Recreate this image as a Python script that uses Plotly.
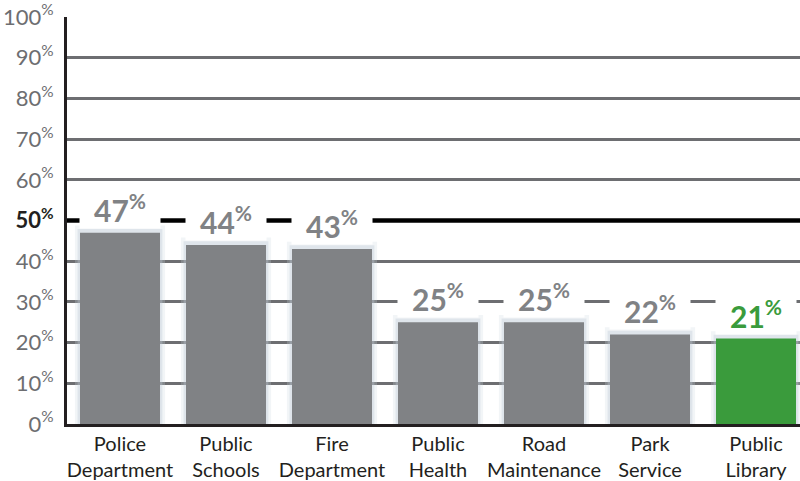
import plotly.graph_objects as go

categories = ["Police<br>Department", "Public<br>Schools", "Fire<br>Department", "Public<br>Health",
              "Road<br>Maintenance", "Park<br>Service", "Public<br>Library"]
values = [47, 44, 43, 25, 25, 22, 21]
bar_colors = ["#808285"] * 6 + ["#3a9b3c"]
label_colors = ["#808285"] * 6 + ["#3a9b3c"]
tick_vals = [0, 10, 20, 30, 40, 50, 60, 70, 80, 90, 100]

xs = list(range(len(categories)))
font_family = "Lato, 'Open Sans', sans-serif"

fig = go.Figure()
# soft glow behind bars
fig.add_trace(go.Bar(x=xs, y=[v + 1.8 for v in values], width=0.85,
                     marker=dict(color="rgba(205,214,224,0.25)", line=dict(width=0)),
                     hoverinfo="skip", showlegend=False))
fig.add_trace(go.Bar(x=xs, y=[v + 0.9 for v in values], width=0.80,
                     marker=dict(color="rgba(190,200,212,0.35)", line=dict(width=0)),
                     hoverinfo="skip", showlegend=False))
fig.add_trace(go.Bar(x=xs, y=values, width=0.755,
                     marker=dict(color=bar_colors, line=dict(width=0)),
                     showlegend=False))

# 50% reference line
fig.add_shape(type="line", xref="paper", yref="y", x0=0, x1=1, y0=50, y1=50,
              line=dict(color="#000000", width=4.5), layer="above")

for i, v in enumerate(values):
    fig.add_annotation(x=i, y=v, xref="x", yref="y", yanchor="bottom", yshift=4,
                       text=f"<b>{v}<sup>%</sup></b>", showarrow=False,
                       font=dict(family=font_family, size=30, color=label_colors[i]),
                       bgcolor="white", width=80, borderpad=0)

ticktext = []
for t in tick_vals:
    if t == 50:
        ticktext.append("<b><span style='color:#231f20'>50<sup>%</sup></span></b>")
    else:
        ticktext.append(f"{t}<sup>%</sup>")

fig.update_layout(
    width=800, height=481,
    margin=dict(l=67, r=0, t=17, b=52),
    paper_bgcolor="white", plot_bgcolor="white",
    barmode="overlay",
    font=dict(family=font_family),
    xaxis=dict(tickmode="array", tickvals=xs, ticktext=categories,
               range=[-0.5, 6.415], showgrid=False, zeroline=False,
               showline=True, linecolor="#231f20", linewidth=3,
               tickfont=dict(size=20, color="#231f20"), ticks=""),
    yaxis=dict(range=[0, 100], tickmode="array", tickvals=tick_vals, ticktext=ticktext,
               showgrid=True, gridcolor="#6d6e71", gridwidth=3, zeroline=False,
               showline=True, linecolor="#231f20", linewidth=3,
               tickfont=dict(size=22, color="#6d6e71"), ticks="",
               ticklabelstandoff=6, ticklabeloverflow="allow"),
)

fig.write_html("out.html", config={"displayModeBar": False},
               post_script="document.body.style.margin='0';document.body.style.overflow='hidden';")
